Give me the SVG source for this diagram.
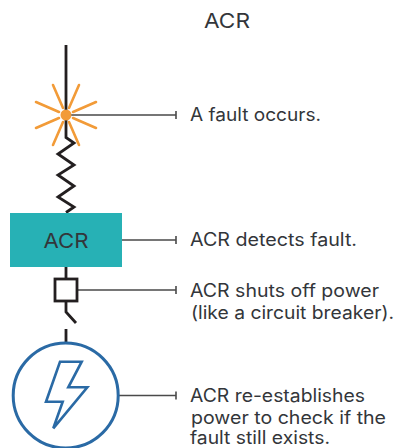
<svg xmlns="http://www.w3.org/2000/svg" width="395" height="448" viewBox="0 0 395 448">
<style>
text{font-family:"Inter","Open Sans","Liberation Sans",sans-serif;fill:#33363a;font-size:18px}
.w{fill:none;stroke:#231f20;stroke-width:2.8}
.c{fill:none;stroke:#4a4a4a;stroke-width:1.6}
.r{fill:none;stroke:#f29b38;stroke-width:2.6;stroke-linecap:round}
</style>
<rect width="395" height="448" fill="#ffffff"/>
<g id="connectors">
<path class="w" d="M66 45V137.500L74 143L58 154L74 165L58 175L74 186L58 197L74 207L66 212.500"/>
<path class="w" d="M66 267V279M66 301V312L76 323M66 329V342"/>
<path class="c" d="M66 115H176M176 111V119"/>
<path class="c" d="M122 240H176M176 236V244"/>
<path class="c" d="M77 290H176M176 286V294"/>
<path class="c" d="M118 395.500H176M176 391.500V399.500"/>
</g>
<g id="title"><text x="227" y="28" text-anchor="middle" style="font-size:20px" textLength="46" lengthAdjust="spacingAndGlyphs">ACR</text></g>
<g id="fault">
<path class="r" d="M59 112L36 102M73 118L96 128M59 118L36 128M73 112L96 102M63 108L53 85M69 122L79 145M63 122L53 145M69 108L79 85"/>
<circle cx="66" cy="115" r="5.500" fill="#f29b38"/>
<text x="190" y="121" textLength="131" lengthAdjust="spacingAndGlyphs">A fault occurs.</text>
</g>
<g id="acr">
<rect x="10" y="213" width="112" height="54" fill="#27b1b5"/>
<text x="66" y="248" text-anchor="middle" textLength="45" lengthAdjust="spacingAndGlyphs" style="font-size:20px">ACR</text>
<text x="190" y="246" textLength="167" lengthAdjust="spacingAndGlyphs">ACR detects fault.</text>
</g>
<g id="breaker">
<rect x="55" y="279" width="22" height="22" fill="#ffffff" stroke="#231f20" stroke-width="2.800"/>
<text x="190" y="296.500" textLength="189" lengthAdjust="spacingAndGlyphs">ACR shuts off power</text>
<text x="191" y="319" textLength="203" lengthAdjust="spacingAndGlyphs">(like a circuit breaker).</text>
</g>
<g id="source">
<circle cx="65.700" cy="395.500" r="52.500" fill="#ffffff" stroke="#2a6aa5" stroke-width="3"/>
<path d="M60 361.700H81.700L68.300 387.300H87.300L53.300 428.300L62.700 401.700H46Z" fill="none" stroke="#2a6aa5" stroke-width="2.600"/>
<text x="190" y="401.500" textLength="175" lengthAdjust="spacingAndGlyphs">ACR re-establishes</text>
<text x="191" y="424" textLength="195" lengthAdjust="spacingAndGlyphs">power to check if the</text>
<text x="190" y="444" textLength="140" lengthAdjust="spacingAndGlyphs">fault still exists.</text>
</g>
</svg>
